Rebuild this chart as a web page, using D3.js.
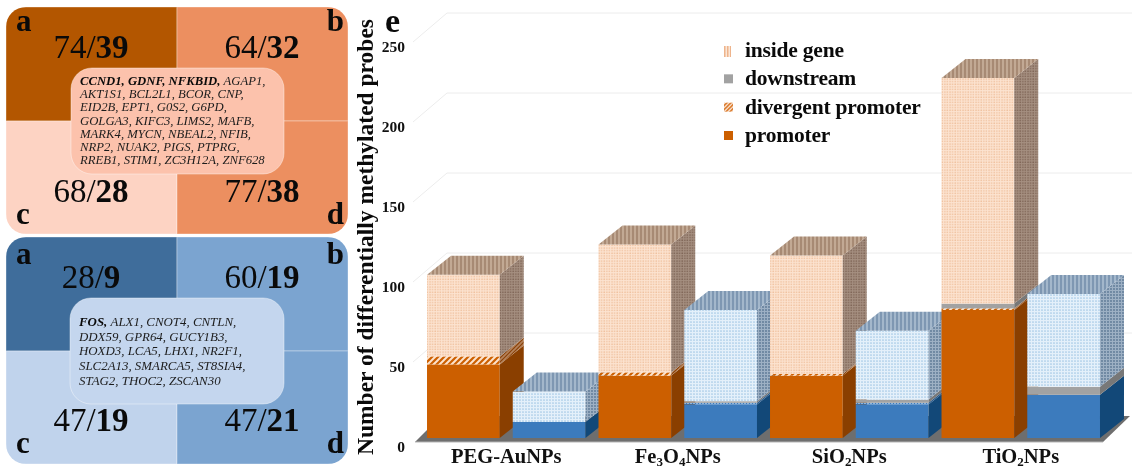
<!DOCTYPE html>
<html>
<head>
<meta charset="utf-8">
<script src="https://cdn.jsdelivr.net/npm/d3@7"></script>
<style>
  html, body { margin: 0; padding: 0; background: #fff; }
  svg { display: block; font-family: "Liberation Serif", serif; filter: blur(0.4px); }
</style>
</head>
<body>
<svg id="chart" width="1134" height="473"></svg>
<script>
// bar chart data, two bars (up / down) per nanoparticle
const groups = ["PEG-AuNPs", "Fe3O4NPs", "SiO2NPs", "TiO2NPs"];
const bars = ["PEG-up", "PEG-down", "Fe-up", "Fe-down", "Si-up", "Si-down", "Ti-up", "Ti-down"];
const promoter = [46, 10, 39, 21, 39, 21, 80, 27];
const divergent = [5, 0, 2, 1, 1, 1, 1, 0];
const downstream = [0, 0, 0, 1, 0, 2, 3, 5];
const insideGene = [51, 19, 80, 57, 74, 43, 141, 58];
const yTicks = [0, 50, 100, 150, 200, 250];
const legendLabels = ["inside gene", "downstream", "divergent promoter", "promoter"];

// venn-like quadrant data
const cellNames = ["a", "b", "c", "d"];
const upTotals = [74, 64, 68, 77];
const upBold = [39, 32, 28, 38];
const downTotals = [28, 60, 47, 47];
const downBold = [9, 19, 19, 21];
const upGenesBold = "CCND1, GDNF, NFKBID,";
const upGenes = [
  " AGAP1,",
  "AKT1S1, BCL2L1, BCOR, CNP,",
  "EID2B, EPT1, G0S2, G6PD,",
  "GOLGA3, KIFC3, LIMS2, MAFB,",
  "MARK4, MYCN, NBEAL2, NFIB,",
  "NRP2, NUAK2, PIGS, PTPRG,",
  "RREB1, STIM1, ZC3H12A, ZNF628"
];
const downGenesBold = "FOS,";
const downGenes = [
  " ALX1, CNOT4, CNTLN,",
  "DDX59, GPR64, GUCY1B3,",
  "HOXD3, LCA5, LHX1, NR2F1,",
  "SLC2A13, SMARCA5, ST8SIA4,",
  "STAG2, THOC2, ZSCAN30"
];

const svg = d3.select("#chart");
const defs = svg.append("defs");

// small repeating texture, used for the dotted / hatched faces
const addPattern = (id, size, base, draw) => {
  const p = defs.append("pattern")
    .attr("id", id)
    .attr("patternUnits", "userSpaceOnUse")
    .attr("width", size)
    .attr("height", size);
  p.append("rect").attr("width", size).attr("height", size).attr("fill", base);
  draw(p);
};
const dots = (color, r) => (p) => {
  p.append("circle").attr("cx", 1).attr("cy", 1).attr("r", r).attr("fill", color);
};
const stripes = (color, w) => (p) => {
  p.append("rect").attr("width", w).attr("height", 4).attr("fill", color);
};
const hatch = (color, w) => (p) => {
  p.append("path").attr("d", "M-1,5 L5,-1 M-1,1 L1,-1 M3,5 L5,3")
    .attr("stroke", color).attr("stroke-width", w);
};

addPattern("insideFront", 2.6, "#fce3d0", dots("#efc09c", 0.75));
addPattern("insideSide", 2.6, "#a58f80", dots("#7f6556", 0.8));
addPattern("insideTop", 4, "#c2a994", stripes("#a78a74", 2));
addPattern("blueFront", 3, "#e4f0fa", dots("#a3c7e6", 0.85));
addPattern("blueSide", 3, "#9db0c4", dots("#5c7895", 0.9));
addPattern("blueTop", 4, "#a3b7cb", stripes("#7e97b2", 2));
addPattern("divFront", 6, "#cc5f00", (p) => {
  p.append("path").attr("d", "M-1,7 L7,-1 M-1,1 L1,-1 M5,7 L7,5")
    .attr("stroke", "#fde3cd").attr("stroke-width", 2);
});
addPattern("divSide", 4, "#8a4208", hatch("#b5835c", 1.6));
addPattern("divBlueFront", 3, "#3c7bbd", dots("#fff", 0.8));

// ---- quadrant panels ----
const drawPanel = (cfg) => {
  const x = d3.scaleBand().domain([0, 1]).range([cfg.x0, cfg.x1]);
  const clipId = "clip" + cfg.id;
  defs.append("clipPath").attr("id", clipId)
    .append("rect")
    .attr("x", cfg.x0).attr("y", cfg.y0)
    .attr("width", cfg.x1 - cfg.x0).attr("height", cfg.y1 - cfg.y0)
    .attr("rx", 20);

  const g = svg.append("g");
  const cells = g.append("g").attr("clip-path", `url(#${clipId})`);
  const col = (i) => i % 2;
  const row = (i) => Math.floor(i / 2);
  const rowY = [cfg.y0, cfg.yMid, cfg.y1];

  cells.selectAll("rect").data(cellNames).join("rect")
    .attr("x", (d, i) => x(col(i)))
    .attr("y", (d, i) => rowY[row(i)])
    .attr("width", x.bandwidth())
    .attr("height", (d, i) => rowY[row(i) + 1] - rowY[row(i)])
    .attr("fill", (d, i) => cfg.colors[i])
    .attr("stroke", "#fff")
    .attr("stroke-opacity", 0.35)
    .attr("stroke-width", 1);

  // counts
  const count = g.selectAll(".count").data(cellNames).join("text")
    .attr("class", "count")
    .attr("x", (d, i) => x(col(i)) + x.bandwidth() / 2 + (col(i) ? -0.5 : -0.5))
    .attr("y", (d, i) => cfg.countY[row(i)])
    .attr("text-anchor", "middle")
    .attr("font-size", 33)
    .attr("fill", "#0a0a0a");
  count.append("tspan").text((d, i) => cfg.totals[i] + "/");
  count.append("tspan").attr("font-weight", "bold").text((d, i) => cfg.bold[i]);

  // corner letters
  g.selectAll(".letter").data(cellNames).join("text")
    .attr("class", "letter")
    .attr("x", (d, i) => (col(i) ? cfg.x1 - 4 : cfg.x0 + 10))
    .attr("y", (d, i) => cfg.letterY[row(i)])
    .attr("text-anchor", (d, i) => (col(i) ? "end" : "start"))
    .attr("font-size", 31)
    .attr("font-weight", "bold")
    .attr("fill", "#0a0a0a")
    .text((d) => d);

  // centre box with the shared genes
  g.append("rect")
    .attr("x", cfg.boxX).attr("y", cfg.boxY)
    .attr("width", cfg.boxW).attr("height", cfg.boxH)
    .attr("rx", 21)
    .attr("fill", cfg.boxFill)
    .attr("stroke", "#fff")
    .attr("stroke-opacity", 0.4);

  const text = g.append("text")
    .attr("font-style", "italic")
    .attr("font-size", cfg.geneSize)
    .attr("fill", "#1c1c1c");
  cfg.genes.forEach((line, i) => {
    const t = text.append("tspan")
      .attr("y", cfg.geneY + i * cfg.geneStep);
    if (i === 0) {
      t.attr("x", cfg.boxX + 9).attr("font-weight", "bold").attr("fill", "#0a0a0a").text(cfg.genesBold);
      text.append("tspan").text("\u00a0" + line.trim());
    } else {
      t.attr("x", cfg.boxX + 9).text(line);
    }
  });
};

drawPanel({
  id: "Up", x0: 6, x1: 348, y0: 7, y1: 234, yMid: 121,
  colors: ["#b35600", "#ec8f60", "#fdd3c3", "#ec8f60"],
  totals: upTotals, bold: upBold,
  countY: [58, 202], letterY: [31, 224],
  boxX: 71, boxY: 68, boxW: 213, boxH: 106, boxFill: "#fcc2ac",
  genes: upGenes, genesBold: upGenesBold, geneSize: 12.7, geneY: 85, geneStep: 13.2
});
drawPanel({
  id: "Down", x0: 6, x1: 348, y0: 237, y1: 464, yMid: 351,
  colors: ["#3f6d9b", "#7ba4d0", "#c0d3ec", "#7ba4d0"],
  totals: downTotals, bold: downBold,
  countY: [288, 431], letterY: [264, 453],
  boxX: 70, boxY: 298, boxW: 214, boxH: 106, boxFill: "#c4d6ee",
  genes: downGenes, genesBold: downGenesBold, geneSize: 12.9, geneY: 326, geneStep: 14.7
});

// ---- 3D stacked bars ----
const depthX = 24;
const depthY = 19;
const plotLeft = 420.5;
const plotRight = 1106.5;

const y = d3.scaleLinear().domain([0, 250]).range([438, 38]);
const xGroup = d3.scaleBand().domain(groups).range([plotLeft, plotRight]);
const xBar = d3.scaleBand().domain(bars).range([plotLeft, plotRight])
  .paddingInner(0.152).paddingOuter(0.076);

const chart = svg.append("g");

// walls: gridlines run from the left edge back, then along the back wall
const gridLine = d3.line();
chart.append("g").selectAll("path").data(yTicks.slice(1)).join("path")
  .attr("d", (d) => gridLine([
    [413, y(d) + 4],
    [447, y(d) - 25],
    [1132, y(d) - 25]
  ]))
  .attr("fill", "none")
  .attr("stroke", "#ececec")
  .attr("stroke-width", 1);

// floor
chart.append("path")
  .attr("d", gridLine([
    [415, y(0) + 4],
    [1103, y(0) + 4],
    [1130, y(0) - 22],
    [441, y(0) - 22]
  ]) + "Z")
  .attr("fill", "#6e6e6e");
chart.append("line")
  .attr("x1", 415).attr("x2", 1103)
  .attr("y1", y(0) + 4).attr("y2", y(0) + 4)
  .attr("stroke", "#b5b5b5").attr("stroke-width", 1);

const seriesKeys = ["promoter", "divergent", "downstream", "inside"];
const rows = bars.map((b, i) => ({
  bar: b,
  promoter: promoter[i],
  divergent: divergent[i],
  downstream: downstream[i],
  inside: insideGene[i]
}));
const stacked = d3.stack().keys(seriesKeys)(rows);

const isBlue = (i) => i % 2 === 1;
const faceFill = (key, i, face) => {
  const blue = isBlue(i);
  if (key === "promoter") {
    if (face === "front") return blue ? "#3c7bbd" : "#cc5f00";
    return blue ? "#124878" : "#8a3f00";
  }
  if (key === "divergent") {
    if (face === "front") return blue ? "url(#divBlueFront)" : "url(#divFront)";
    return blue ? "#2c5c8c" : "url(#divSide)";
  }
  if (key === "downstream") {
    return face === "front" ? "#a2a2a2" : "#787878";
  }
  if (face === "front") return blue ? "url(#blueFront)" : "url(#insideFront)";
  if (face === "side") return blue ? "url(#blueSide)" : "url(#insideSide)";
  return blue ? "url(#blueTop)" : "url(#insideTop)";
};

bars.forEach((b, i) => {
  const bar = chart.append("g").attr("class", "bar");
  const x0 = xBar(b);
  const x1 = x0 + xBar.bandwidth();
  stacked.forEach((layer) => {
    const d = layer[i];
    if (d[1] === d[0]) return;
    const yb = y(d[0]);
    const yt = y(d[1]);
    bar.append("rect")
      .attr("x", x0).attr("y", yt)
      .attr("width", x1 - x0).attr("height", yb - yt)
      .attr("fill", faceFill(layer.key, i, "front"));
    bar.append("path")
      .attr("d", gridLine([
        [x1, yb], [x1 + depthX, yb - depthY],
        [x1 + depthX, yt - depthY], [x1, yt]
      ]) + "Z")
      .attr("fill", faceFill(layer.key, i, "side"));
  });
  const top = y(stacked[stacked.length - 1][i][1]);
  bar.append("path")
    .attr("d", gridLine([
      [x0, top], [x1, top],
      [x1 + depthX, top - depthY], [x0 + depthX, top - depthY]
    ]) + "Z")
    .attr("fill", faceFill("inside", i, "top"));
});

// ---- axes ----
const yAxis = chart.append("g")
  .attr("transform", "translate(408,9)")
  .call(d3.axisLeft(y).tickValues(yTicks).tickSize(0).tickPadding(3));
yAxis.select(".domain").remove();
yAxis.selectAll("text")
  .attr("font-family", "Liberation Serif")
  .attr("font-size", 15.5)
  .attr("font-weight", "bold")
  .attr("fill", "#111");

const xAxis = chart.append("g")
  .attr("transform", "translate(0,448.5)")
  .call(d3.axisBottom(xGroup).tickSize(0).tickPadding(0));
xAxis.select(".domain").remove();
xAxis.selectAll("text")
  .attr("font-family", "Liberation Serif")
  .attr("font-size", 20.5)
  .attr("font-weight", "bold")
  .attr("fill", "#111")
  .attr("dy", "0.71em")
  .each(function (d) {
    // digits in the particle names are subscripts
    const label = d3.select(this).text(null);
    d.split(/(\d)/).filter((s) => s).forEach((part) => {
      const sub = /\d/.test(part);
      label.append("tspan")
        .attr("font-size", sub ? 13 : 20.5)
        .attr("baseline-shift", sub ? "-25%" : null)
        .text(part);
    });
  });

svg.append("text")
  .attr("transform", "translate(373,237) rotate(-90)")
  .attr("text-anchor", "middle")
  .attr("font-size", 23.5)
  .attr("font-weight", "bold")
  .attr("fill", "#0a0a0a")
  .text("Number of differentially methylated probes");

svg.append("text")
  .attr("x", 385).attr("y", 32)
  .attr("font-size", 34)
  .attr("font-weight", "bold")
  .attr("fill", "#0a0a0a")
  .text("e");

// ---- legend ----
const legendY = d3.scalePoint().domain(legendLabels).range([57, 142]);
const legendFill = ["url(#legendInside)", "#a2a2a2", "url(#legendDiv)", "#cc5f00"];
addPattern("legendInside", 3, "#fbe6d6", stripes("#eeb48c", 1.5));
addPattern("legendDiv", 4, "#fff", hatch("#d9701a", 1.6));

const legend = svg.append("g").selectAll("g").data(legendLabels).join("g")
  .attr("transform", (d) => `translate(724,${legendY(d)})`);
legend.append("rect")
  .attr("y", -11)
  .attr("width", (d, i) => (i === 0 ? 7 : 9))
  .attr("height", (d, i) => (i === 0 ? 11 : 9))
  .attr("fill", (d, i) => legendFill[i]);
legend.append("text")
  .attr("x", 21)
  .attr("font-size", 21.5)
  .attr("font-weight", "bold")
  .attr("letter-spacing", -0.2)
  .attr("fill", "#0a0a0a")
  .text((d) => d);
</script>
</body>
</html>
